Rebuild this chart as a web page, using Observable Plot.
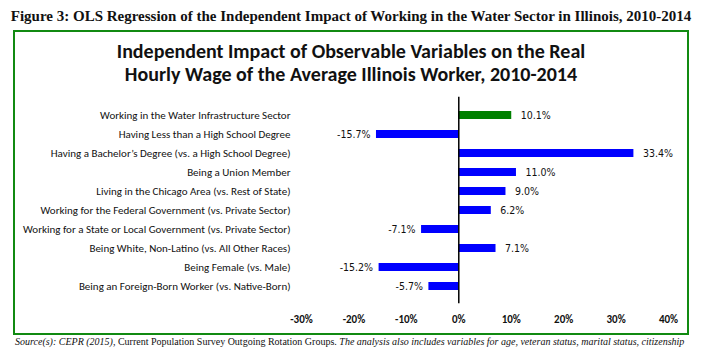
<!DOCTYPE html>
<html>
<head>
<meta charset="utf-8">
<script src="https://cdn.jsdelivr.net/npm/d3@7"></script>
<script src="https://cdn.jsdelivr.net/npm/@observablehq/plot@0.6"></script>
<style>
  html, body { margin: 0; padding: 0; background: #fff; }
  #page { position: relative; width: 702px; height: 352px; overflow: hidden; background: #fff; }
  #figcap { position: absolute; left: 0; width: 702px; top: 8px; text-align: center;
    font-family: "Liberation Serif", serif; font-weight: bold; font-size: 15px; color: #111; white-space: nowrap; }
  #box { position: absolute; left: 13px; top: 30px; width: 672px; height: 301px; border: 2px solid #118a11; }
  #title { position: absolute; left: 0; width: 702px; top: 40px; text-align: center;
    font-family: "Carlito", "Liberation Sans Narrow", "Roboto", sans-serif; font-weight: bold; font-size: 20px; line-height: 23px; color: #111; }
  #chart { position: absolute; left: 0; top: 90px; }
  #source { position: absolute; left: 15px; top: 336px; white-space: nowrap;
    font-family: "Liberation Serif", serif; font-size: 10px; color: #111; }
</style>
</head>
<body>
<div id="page">
  <div id="figcap">Figure 3: OLS Regression of the Independent Impact of Working in the Water Sector in Illinois, 2010-2014</div>
  <div id="box"></div>
  <div id="title">Independent Impact of Observable Variables on the Real<br>Hourly Wage of the Average Illinois Worker, 2010-2014</div>
  <div id="chart"></div>
  <div id="source"><i>Source(s): CEPR (2015),</i> Current Population Survey Outgoing Rotation Groups. <i>The analysis also includes variables for age, veteran status, marital status, citizenship</i></div>
</div>
<script>
const categories = [
  "Working in the Water Infrastructure Sector",
  "Having Less than a High School Degree",
  "Having a Bachelor\u2019s Degree (vs. a High School Degree)",
  "Being a Union Member",
  "Living in the Chicago Area (vs. Rest of State)",
  "Working for the Federal Government (vs. Private Sector)",
  "Working for a State or Local Government (vs. Private Sector)",
  "Being White, Non-Latino (vs. All Other Races)",
  "Being Female (vs. Male)",
  "Being an Foreign-Born Worker (vs. Native-Born)"
];
const values = [10.1, -15.7, 33.4, 11.0, 9.0, 6.2, -7.1, 7.1, -15.2, -5.7];
const highlighted = "Working in the Water Infrastructure Sector";
const xTicks = [-30, -20, -10, 0, 10, 20, 30, 40];

const data = categories.map((c, i) => ({category: c, value: values[i]}));
const labelFont = "\"DejaVu Sans Condensed\", \"DejaVu Sans\", sans-serif";
const catFont = "Carlito, \"Liberation Sans Narrow\", Roboto, sans-serif";

const chart = Plot.plot({
  width: 702,
  height: 240,
  marginLeft: 301,
  marginRight: 34,
  marginTop: 6.7,
  marginBottom: 26.7,
  style: {background: "transparent", color: "#111", overflow: "visible"},
  x: {domain: [-30, 40], label: null},
  y: {domain: categories, padding: 0.6, label: null},
  color: {type: "identity"},
  marks: [
    Plot.barX(data, {x: "value", y: "category",
      fill: d => d.category === highlighted ? "#008000" : "#0000ff"}),
    Plot.ruleX([0], {stroke: "#000", strokeWidth: 1.5}),
    Plot.text(data.filter(d => d.value >= 0), {x: "value", y: "category",
      text: d => d.value.toFixed(1) + "%", textAnchor: "start", dx: 9,
      fontSize: 10.5, fontFamily: labelFont, fill: "#111"}),
    Plot.text(data.filter(d => d.value < 0), {x: "value", y: "category",
      text: d => d.value.toFixed(1) + "%", textAnchor: "end", dx: -6,
      fontSize: 10.5, fontFamily: labelFont, fill: "#111"}),
    Plot.axisX({ticks: xTicks, tickFormat: d => d + "%", tickSize: 0, tickPadding: 11, label: null,
      fontSize: 11, fontWeight: "bold", fontFamily: catFont, fill: "#111"}),
    Plot.axisY({tickSize: 0, tickPadding: 11, label: null, fontSize: 11, fontFamily: catFont, fill: "#111"})
  ]
});
document.getElementById("chart").appendChild(chart);
</script>
</body>
</html>
